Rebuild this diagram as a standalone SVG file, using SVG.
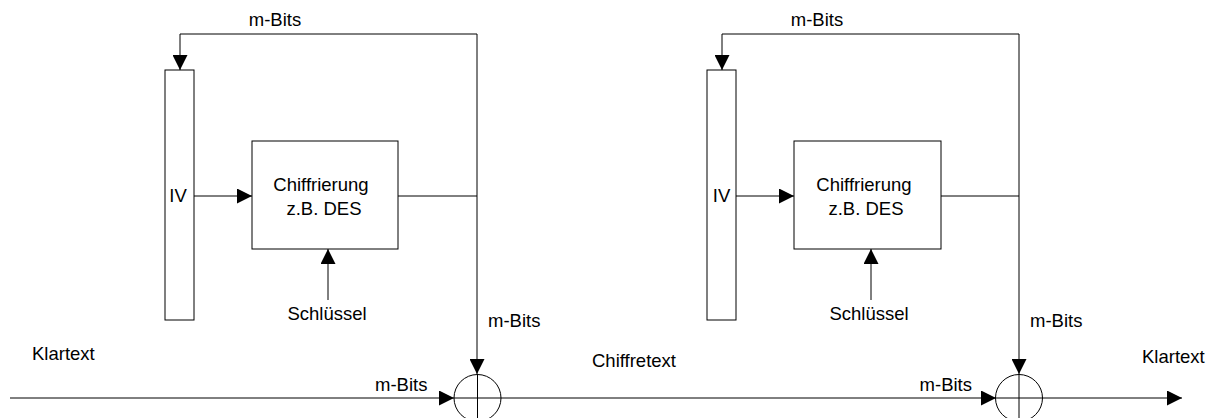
<svg xmlns="http://www.w3.org/2000/svg" width="1217" height="418" viewBox="0 0 1217 418">
<style>
.ln{fill:none;stroke:#000;stroke-width:1}
.bx{fill:#fff;stroke:#000;stroke-width:1}
.t{font-family:"Liberation Sans",Arial,sans-serif;font-size:18.5px;fill:#000}
.m{text-anchor:middle}
.e{text-anchor:end}
</style>
<defs>
<marker id="ah" markerUnits="userSpaceOnUse" markerWidth="15" markerHeight="15" refX="15" refY="7.5" orient="auto">
<path d="M0,0 L15,7.5 L0,15 z" fill="#000"/>
</marker>
</defs>
<rect width="1217" height="418" fill="#fff"/>
<g id="connectors">
<path class="ln" d="M398,196 H477"/>
<path class="ln" d="M477,34 V374" marker-end="url(#ah)"/>
<path class="ln" d="M477,34 H180 V70" marker-end="url(#ah)"/>
<path class="ln" d="M194,196 H252" marker-end="url(#ah)"/>
<path class="ln" d="M328,300 V249" marker-end="url(#ah)"/>
<path class="ln" d="M10,398 H454" marker-end="url(#ah)"/>
<path class="ln" d="M501,398 H996" marker-end="url(#ah)"/>
<path class="ln" d="M1042,398 H1182" marker-end="url(#ah)"/>
<path class="ln" d="M940,196 H1019"/>
<path class="ln" d="M1019,34 V374" marker-end="url(#ah)"/>
<path class="ln" d="M1019,34 H722 V70" marker-end="url(#ah)"/>
<path class="ln" d="M736,196 H794" marker-end="url(#ah)"/>
<path class="ln" d="M871,300 V249" marker-end="url(#ah)"/>
</g>
<g id="iv1"><rect class="bx" x="165" y="70" width="29" height="250"/><text class="t m" x="178" y="202">IV</text></g>
<g id="enc1"><rect class="bx" x="252" y="141" width="146" height="108"/><text class="t m" x="321" y="191">Chiffrierung</text><text class="t m" x="324" y="215">z.B. DES</text></g>
<g id="key1"><text class="t m" x="327" y="320">Schlüssel</text></g>
<g id="xor1"><circle class="ln" cx="477.5" cy="398" r="23.5"/><path class="ln" d="M477.5,374 V422 M454,398 H501"/></g>
<g id="iv2"><rect class="bx" x="707" y="70" width="29" height="250"/><text class="t m" x="721.5" y="202">IV</text></g>
<g id="enc2"><rect class="bx" x="794" y="141" width="147" height="108"/><text class="t m" x="864" y="191">Chiffrierung</text><text class="t m" x="866" y="215">z.B. DES</text></g>
<g id="key2"><text class="t m" x="869" y="320">Schlüssel</text></g>
<g id="xor2"><circle class="ln" cx="1019" cy="398" r="23.5"/><path class="ln" d="M1019,374 V422 M995.5,398 H1042.5"/></g>
<g id="labels">
<text class="t m" x="275" y="26">m-Bits</text>
<text class="t m" x="817" y="26">m-Bits</text>
<text class="t" x="488" y="327">m-Bits</text>
<text class="t" x="1030" y="327">m-Bits</text>
<text class="t" x="375" y="391">m-Bits</text>
<text class="t e" x="972" y="391">m-Bits</text>
<text class="t" x="32" y="360">Klartext</text>
<text class="t" x="592" y="367">Chiffretext</text>
<text class="t" x="1142" y="363">Klartext</text>
</g>
</svg>
